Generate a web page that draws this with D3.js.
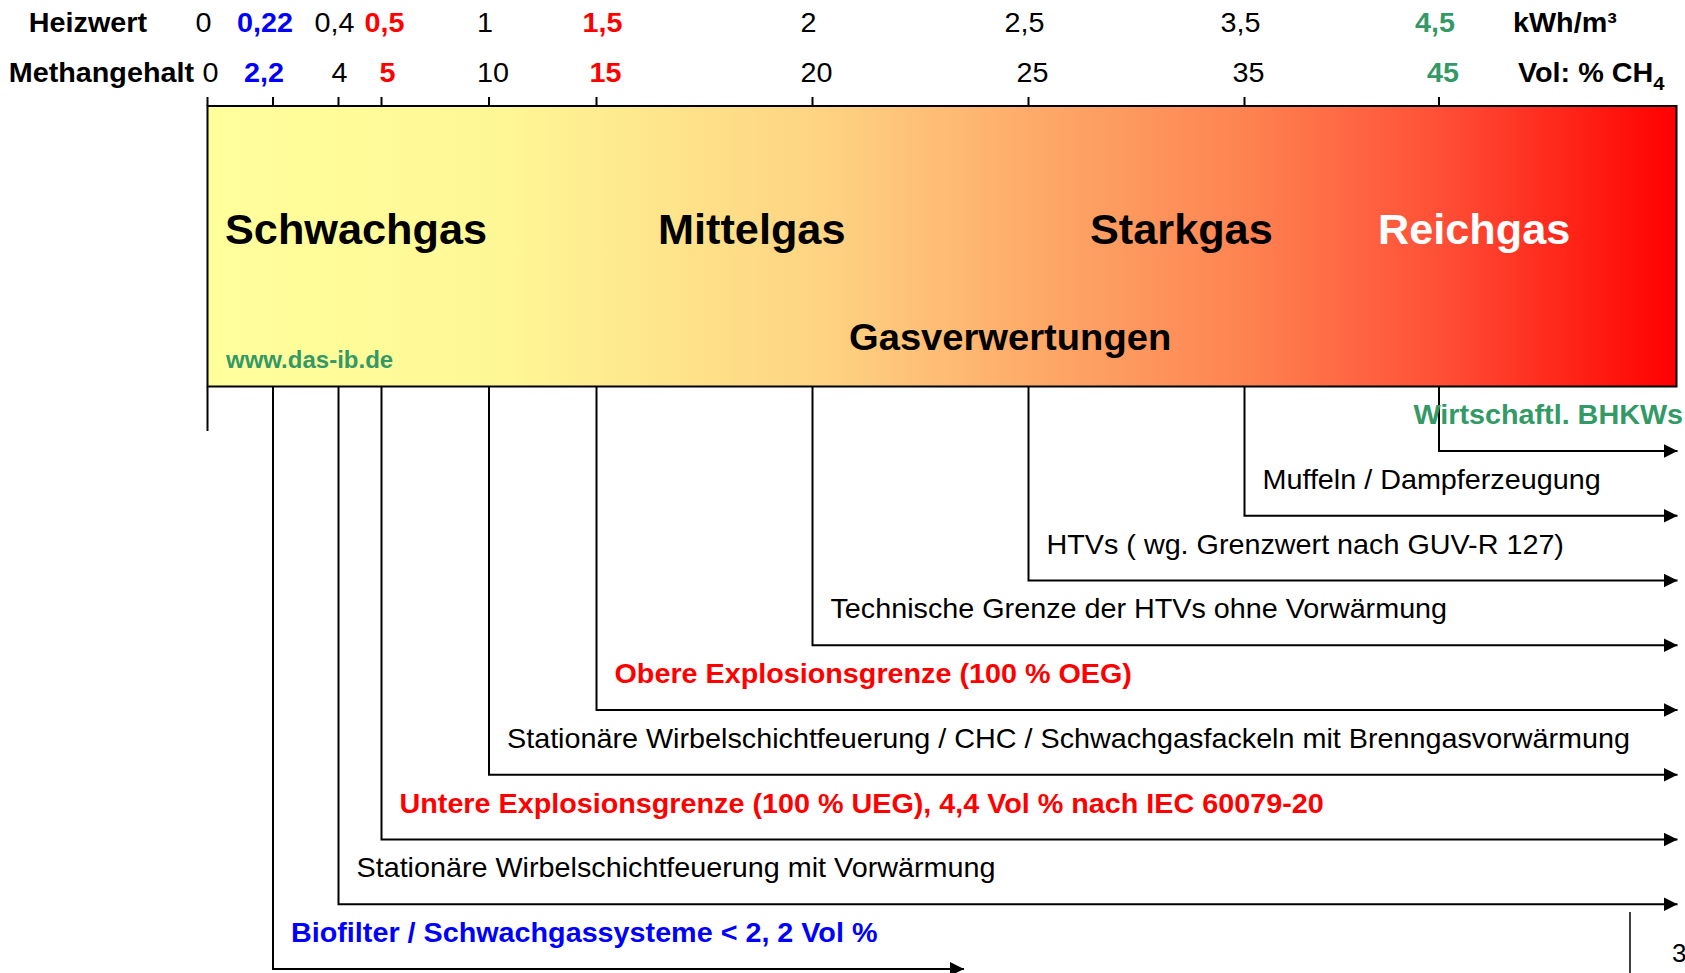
<!DOCTYPE html>
<html>
<head>
<meta charset="utf-8">
<script src="https://cdn.jsdelivr.net/npm/d3@7"></script>
<style>
  html, body { margin: 0; padding: 0; background: #fff; }
  svg { display: block; font-family: "Liberation Sans", Arial, sans-serif; }
</style>
</head>
<body>
<svg id="chart" width="1685" height="973"></svg>
<script>
(() => {

    // Methangehalt (Vol % CH4) ticks and the matching Heizwert (kWh/m³)
    const methaneTicks = [0, 2.2, 4, 5, 10, 15, 20, 25, 35, 45];
    const methaneLabels = ['0', '2,2', '4', '5', '10', '15', '20', '25', '35', '45'];
    const heatLabels = ['0', '0,22', '0,4', '0,5', '1', '1,5', '2', '2,5', '3,5', '4,5'];

    // gas classes inside the bar
    const gasClasses = ['Schwachgas', 'Mittelgas', 'Starkgas', 'Reichgas'];

    // uses, from top row to bottom row, with the CH4 content where they start
    const useStart = [45, 35, 25, 20, 15, 10, 5, 4, 2.2];
    const useLabels = [
        'Wirtschaftl. BHKWs',
        'Muffeln / Dampferzeugung',
        'HTVs ( wg. Grenzwert nach GUV-R 127)',
        'Technische Grenze der HTVs ohne Vorwärmung',
        'Obere Explosionsgrenze (100 % OEG)',
        'Stationäre Wirbelschichtfeuerung / CHC / Schwachgasfackeln mit Brenngasvorwärmung',
        'Untere Explosionsgrenze (100 % UEG), 4,4 Vol % nach IEC 60079-20',
        'Stationäre Wirbelschichtfeuerung mit Vorwärmung',
        'Biofilter / Schwachgassysteme < 2, 2 Vol %'
    ];

    const blue = '#0000ff', red = '#ff0000', green = '#339966';
    const accent = v => ({2.2: blue, 5: red, 15: red, 45: green})[v];

    // the original lettering is a bit wider than Arial
    const SX = 1.065;
    const place = (sel, fx, fy, sx = SX) => sel
            .attr('transform', (d, i) => `translate(${fx(d, i)},${fy(d, i)}) scale(${sx},1)`);

    const svg = d3.select('#chart');

    const box = {left: 207.5, right: 1676.5, top: 106, bottom: 386.5};

    // the diagram's axis is drawn piecewise, not to one linear scale
    const x = d3.scaleLinear()
            .domain(methaneTicks)
            .range([207.5, 273, 338.5, 381.5, 489, 596.5, 812.5, 1028.5, 1244.5, 1439]);

    const rowY = d3.scaleLinear()
            .domain([0, useStart.length - 1])
            .range([451, 969]);

    // gradient
    const defs = svg.append('defs');
    const grad = defs.append('linearGradient')
            .attr('id', 'heat')
            .attr('x1', 0).attr('x2', 1).attr('y1', 0).attr('y2', 0);
    [[0, '#ffff9c'], [0.2, '#fff796'], [0.28, '#feea8e'], [0.42, '#fed382'],
     [0.56, '#fdab69'], [0.7, '#fe8552'], [0.84, '#ff4f36'], [1, '#ff0000']]
        .forEach(s => grad.append('stop').attr('offset', s[0]).attr('stop-color', s[1]));

    defs.append('marker')
            .attr('id', 'arrow')
            .attr('viewBox', '0 0 14 14')
            .attr('refX', 14).attr('refY', 7)
            .attr('markerWidth', 14).attr('markerHeight', 14)
            .attr('markerUnits', 'userSpaceOnUse')
            .attr('orient', 'auto')
            .append('path')
            .attr('d', 'M0,0 L14,7 L0,14 Z')
            .attr('fill', '#000');

    // header labels
    place(svg.append('text'), () => 147, () => 32)
            .attr('text-anchor', 'end')
            .attr('font-size', 27).attr('font-weight', 'bold')
            .text('Heizwert');
    place(svg.append('text'), () => 194, () => 82)
            .attr('text-anchor', 'end')
            .attr('font-size', 27).attr('font-weight', 'bold')
            .text('Methangehalt');

    // small hand placement of the tick numbers, as in the original
    const heatNudge = {2.2: -4, 5: 7, 15: 10};
    const methaneNudge = {0: -1, 2.2: -13, 4: -3, 5: 2, 15: 5};

    const tickText = (labels, y, dx, nudge) => place(svg.append('g')
            .selectAll('text')
            .data(methaneTicks)
            .enter().append('text'),
                d => x(d) + dx + (nudge[d] || 0), () => y)
            .attr('text-anchor', 'middle')
            .attr('font-size', 27)
            .attr('font-weight', d => accent(d) ? 'bold' : 'normal')
            .attr('fill', d => accent(d) || '#000')
            .text((d, i) => labels[i]);

    tickText(heatLabels, 32, -4, heatNudge);
    tickText(methaneLabels, 82, 4, methaneNudge);

    place(svg.append('text'), () => 1513, () => 32)
            .attr('font-size', 27).attr('font-weight', 'bold')
            .text('kWh/m³');
    const vol = place(svg.append('text'), () => 1518, () => 82)
            .attr('font-size', 27).attr('font-weight', 'bold');
    vol.append('tspan').text('Vol: % CH');
    vol.append('tspan').attr('font-size', 19).attr('dy', 8).text('4');

    // tick marks above the bar
    svg.append('g')
            .selectAll('line')
            .data(methaneTicks)
            .enter().append('line')
            .attr('x1', d => x(d)).attr('x2', d => x(d))
            .attr('y1', 97).attr('y2', box.top)
            .attr('stroke', '#000').attr('stroke-width', 2);

    // bar
    svg.append('rect')
            .attr('x', box.left).attr('y', box.top)
            .attr('width', box.right - box.left)
            .attr('height', box.bottom - box.top)
            .attr('fill', 'url(#heat)')
            .attr('stroke', '#000').attr('stroke-width', 2);

    const classX = [225, 658, 1090, 1378];
    place(svg.append('g')
            .selectAll('text')
            .data(gasClasses)
            .enter().append('text'),
                (d, i) => classX[i], () => 244, 1.03)
            .attr('font-size', 42).attr('font-weight', 'bold')
            .attr('fill', (d, i) => i === gasClasses.length - 1 ? '#fff' : '#000')
            .text(d => d);

    place(svg.append('text'), () => 849, () => 350, 1.06)
            .attr('font-size', 36).attr('font-weight', 'bold')
            .text('Gasverwertungen');

    svg.append('text')
            .attr('x', 226).attr('y', 368)
            .attr('font-size', 24).attr('font-weight', 'bold')
            .attr('fill', green)
            .text('www.das-ib.de');

    // zero line below the bar
    svg.append('line')
            .attr('x1', x(0)).attr('x2', x(0))
            .attr('y1', box.bottom).attr('y2', 431)
            .attr('stroke', '#000').attr('stroke-width', 2);

    // uses: vertical drop from the bar, arrow to the right
    const uses = svg.append('g')
            .selectAll('g')
            .data(useStart)
            .enter().append('g');

    uses.append('path')
            .attr('d', (d, i) => {
                const end = d === 2.2 ? 964 : box.right + 1;
                return `M${x(d)},${box.bottom}V${rowY(i)}H${end}`;
            })
            .attr('fill', 'none')
            .attr('stroke', '#000').attr('stroke-width', 2)
            .attr('marker-end', 'url(#arrow)');

    place(uses.append('text'),
                (d, i) => i === 0 ? 1683 : x(d) + 18,
                (d, i) => rowY(i) - 27)
            .attr('text-anchor', (d, i) => i === 0 ? 'end' : 'start')
            .attr('font-size', 27)
            .attr('font-weight', d => accent(d) ? 'bold' : 'normal')
            .attr('fill', d => accent(d) || '#000')
            .text((d, i) => useLabels[i]);

    // cut-off element at the bottom right edge
    svg.append('line')
            .attr('x1', 1630).attr('x2', 1630)
            .attr('y1', 912).attr('y2', 973)
            .attr('stroke', '#000').attr('stroke-width', 1.5);
    svg.append('text')
            .attr('x', 1672).attr('y', 962)
            .attr('font-size', 26)
            .text('3');

})();
</script>
</body>
</html>
